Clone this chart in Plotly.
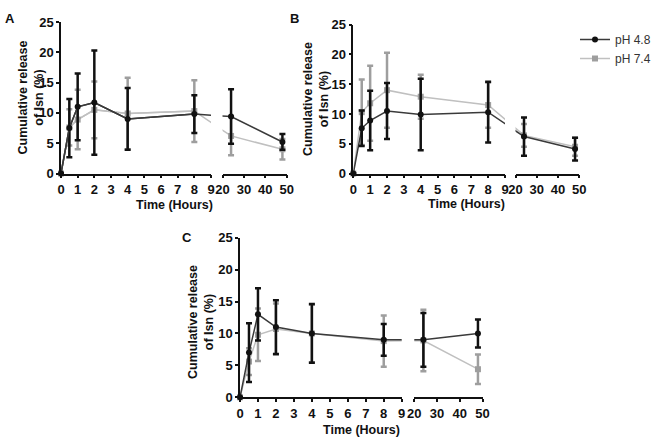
import plotly.graph_objects as go

W, H = 653, 439

# ---- data ----
hours = [0, 0.5, 1, 2, 4, 8, 24, 48]

A_ph48 = [0, 7.5, 11.0, 11.7, 9.0, 9.8, 9.4, 5.2]
A_ph48_sd = [0, 4.8, 5.5, 8.6, 5.1, 3.1, 4.5, 1.3]
A_ph74 = [0, 7.6, 8.9, 10.5, 9.9, 10.3, 6.2, 4.0]
A_ph74_sd = [0, 3.0, 4.9, 4.7, 5.9, 5.1, 3.2, 1.7]

B_ph48 = [0, 7.6, 8.9, 10.5, 9.9, 10.3, 6.2, 4.1]
B_ph48_sd = [0, 3.0, 5.0, 4.7, 6.0, 5.1, 3.2, 1.9]
B_ph74 = [0, 10.3, 11.8, 14.0, 12.9, 11.5, 6.4, 4.5]
B_ph74_sd = [0, 5.5, 6.3, 6.3, 3.7, 3.8, 1.9, 1.5]

C_ph48 = [0, 7.0, 13.0, 11.0, 10.0, 9.0, 9.0, 10.0]
C_ph48_sd = [0, 4.6, 4.1, 4.2, 4.6, 2.5, 4.2, 2.2]
C_ph74 = [0, 5.6, 9.8, 10.7, 10.0, 8.8, 8.9, 4.4]
C_ph74_sd = [0, 2.1, 4.1, 4.0, 4.5, 4.0, 4.8, 2.3]

left_ticks = [0, 1, 2, 3, 4, 5, 6, 7, 8, 9]
right_ticks = [20, 30, 40, 50]
y_ticks = [0, 5, 10, 15, 20, 25]
series_names = ["pH 4.8", "pH 7.4"]
panel_labels = ["A", "B", "C"]
x_title = "Time (Hours)"
y_title = "Cumulative release<br>of Isn (%)"

# ---- layout (pixel geometry) ----
panels = [
    dict(L=(61, 211), R=(222.5, 286.7), Y=(173.5, 22),
         s48=A_ph48, e48=A_ph48_sd, s74=A_ph74, e74=A_ph74_sd,
         yt=(30, 97.5), xt=(174.3, 205), lab=(9.5, 18.5)),
    dict(L=(353.3, 505), R=(515.5, 579.3), Y=(173.5, 24.7),
         s48=B_ph48, e48=B_ph48_sd, s74=B_ph74, e74=B_ph74_sd,
         yt=(316, 99), xt=(466.7, 204), lab=(294.5, 18.5)),
    dict(L=(240, 401.7), R=(414.3, 482.5), Y=(397.3, 237.7),
         s48=C_ph48, e48=C_ph48_sd, s74=C_ph74, e74=C_ph74_sd,
         yt=(201, 322), xt=(361.7, 430), lab=(187, 237)),
]

FONT = "Arial, Liberation Sans, sans-serif"
INK = "#111111"
BLACK_LINE = "#3a3a3a"
GRAY_LINE = "#c0c0c0"
GRAY_MARK = "#9e9e9e"

fig = go.Figure()
layout = dict(width=W, height=H,
              margin=dict(l=0, r=0, t=0, b=0, autoexpand=False),
              paper_bgcolor="white", plot_bgcolor="white",
              showlegend=True, annotations=[])

axis_common = dict(showgrid=False, zeroline=False, showline=True,
                   linecolor=INK, linewidth=1.5, ticks="outside",
                   ticklen=3, tickwidth=1.5, tickcolor=INK,
                   tickfont=dict(family=FONT, size=13, color=INK, weight="bold"),
                   fixedrange=True, automargin=False)


def make_scale(L, R):
    s = (L[1] - L[0]) / 9.0  # px per hour on the left segment
    gap = (R[0] - L[1]) / s
    k = (R[1] - R[0]) / (30.0 * s)

    def f(t):
        return t if t <= 9 else 9 + gap + (t - 20) * k
    return f


for i, p in enumerate(panels):
    xl, xr, yi = 2 * i + 1, 2 * i + 2, i + 1
    xl_ref = "x" if xl == 1 else f"x{xl}"
    xr_ref = f"x{xr}"
    y_ref = "y" if yi == 1 else f"y{yi}"
    xl_key = "xaxis" if xl == 1 else f"xaxis{xl}"
    xr_key = f"xaxis{xr}"
    y_key = "yaxis" if yi == 1 else f"yaxis{yi}"
    f = make_scale(p["L"], p["R"])

    layout[y_key] = dict(axis_common, range=[0, 25], tickvals=y_ticks,
                         domain=[1 - p["Y"][0] / H, 1 - p["Y"][1] / H],
                         anchor=xl_ref)
    layout[xl_key] = dict(axis_common, range=[0, 9], tickvals=left_ticks,
                          domain=[p["L"][0] / W, p["L"][1] / W], anchor=y_ref)
    layout[xr_key] = dict(axis_common, range=[f(20), f(50)],
                          tickvals=[f(t) for t in right_ticks],
                          ticktext=[str(t) for t in right_ticks],
                          domain=[p["R"][0] / W, p["R"][1] / W], anchor=y_ref)

    xs = [f(t) for t in hours]
    styles = [
        (series_names[1], p["s74"], p["e74"], GRAY_LINE, GRAY_MARK, "square", 2),
        (series_names[0], p["s48"], p["e48"], BLACK_LINE, INK, "circle", 1),
    ]
    for name, vals, sd, lc, mc, sym, rank in styles:
        for xref in (xl_ref, xr_ref):
            fig.add_trace(go.Scatter(
                x=xs, y=vals, mode="lines", xaxis=xref, yaxis=y_ref,
                line=dict(color=lc, width=1.5), showlegend=False,
                hoverinfo="skip"))
        left_idx = [j for j, t in enumerate(hours) if t <= 9]
        right_idx = [j for j, t in enumerate(hours) if t >= 20]
        for xref, idx in ((xl_ref, left_idx), (xr_ref, right_idx)):
            show = (i == 0 and xref == xl_ref)
            fig.add_trace(go.Scatter(
                x=[xs[j] for j in idx], y=[vals[j] for j in idx],
                mode="lines+markers" if show else "markers",
                xaxis=xref, yaxis=y_ref, name=name,
                line=dict(color=lc, width=1.5),
                marker=dict(color=mc, size=6, symbol=sym),
                error_y=dict(type="data", array=[sd[j] for j in idx],
                             visible=True, color=mc, thickness=2.5, width=3),
                cliponaxis=False, showlegend=show, legendrank=rank,
                legendgroup=name))

    layout["annotations"] += [
        dict(text=y_title, textangle=-90, x=p["yt"][0] / W, y=1 - p["yt"][1] / H,
             xref="paper", yref="paper", showarrow=False, xanchor="center",
             yanchor="middle", font=dict(family=FONT, size=12.5, color=INK, weight="bold")),
        dict(text=x_title, x=p["xt"][0] / W, y=1 - p["xt"][1] / H,
             xref="paper", yref="paper", showarrow=False, xanchor="center",
             yanchor="middle", font=dict(family=FONT, size=12.5, color=INK, weight="bold")),
        dict(text=panel_labels[i], x=p["lab"][0] / W, y=1 - p["lab"][1] / H,
             xref="paper", yref="paper", showarrow=False, xanchor="center",
             yanchor="middle", font=dict(family=FONT, size=13, color=INK, weight="bold")),
    ]

layout["legend"] = dict(x=575 / W, y=1 - 25 / H, xanchor="left", yanchor="top",
                        bgcolor="rgba(0,0,0,0)", borderwidth=0,
                        font=dict(family=FONT, size=12, color="#333333"),
                        tracegroupgap=0)
fig.update_layout(**layout)
fig.write_html("out.html")
